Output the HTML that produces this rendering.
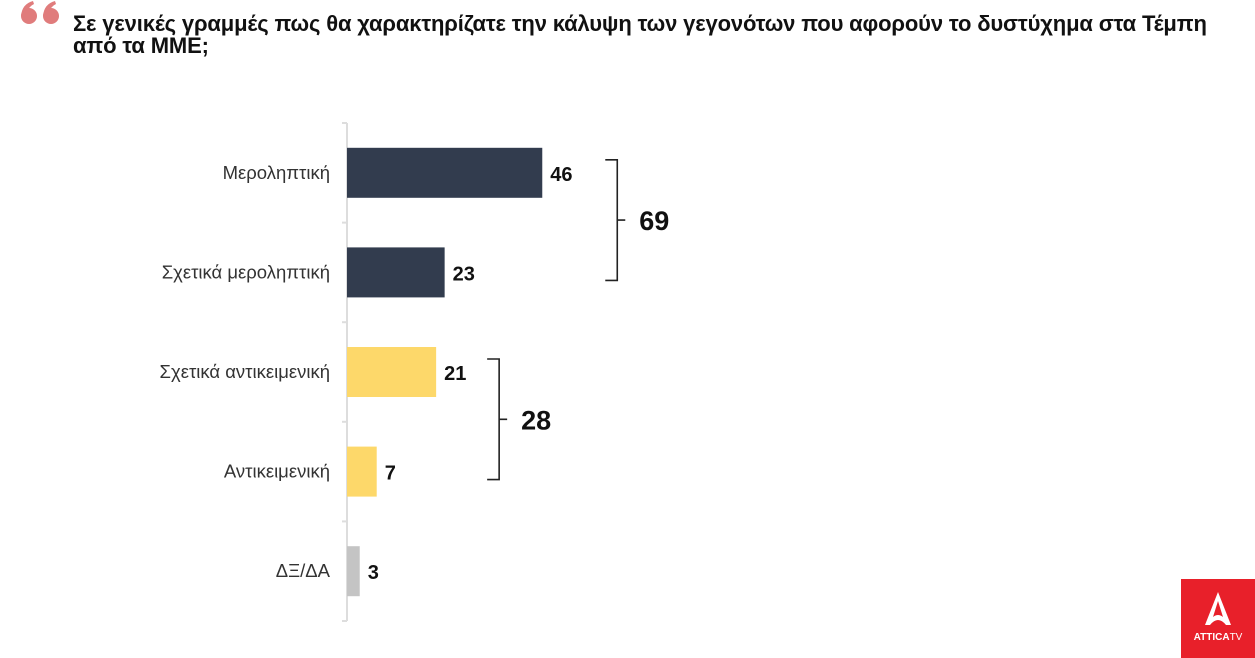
<!DOCTYPE html>
<html><head><meta charset="utf-8"><style>
body{margin:0;width:1255px;height:658px;background:#fff;overflow:hidden;font-family:"Liberation Sans","DejaVu Sans",sans-serif;}
.t{position:absolute;left:73px;top:13px;font-weight:bold;font-size:22px;line-height:22px;color:#111;white-space:nowrap;letter-spacing:-0.15px;}
</style></head><body>
<svg width="64" height="30" style="position:absolute;left:16px;top:0">
<circle cx="13" cy="16" r="8" fill="#e07c7c"/><path d="M5 16 Q6 4 17 1 L18 4 Q12 7 12 12 Z" fill="#e07c7c"/>
<circle cx="35" cy="16" r="8" fill="#e07c7c"/><path d="M27 16 Q28 4 39 1 L40 4 Q34 7 34 12 Z" fill="#e07c7c"/>
</svg>
<div class="t">Σε γενικές γραμμές πως θα χαρακτηρίζατε την κάλυψη των γεγονότων που αφορούν το δυστύχημα στα Τέμπη<br>από τα ΜΜΕ;</div>
<svg id="c" width="1255" height="658" style="position:absolute;left:0;top:0"></svg>
<div style="position:absolute;left:1181px;top:579px;width:74px;height:79px;background:#e8202a;color:#fff;text-align:center;">
<svg width="40" height="40" viewBox="0 0 40 40" style="margin-top:10px"><path d="M20 3 L7 36 L12 36 Q20 26 28 36 L33 36 Z M20 12 L25 28 Q20 24 15 28 Z" fill="#fff"/></svg>
<div style="font-size:10px;font-weight:bold;margin-top:-2px">ATTICA<span style="font-weight:normal">TV</span></div></div>
<script>
const categories=["Μεροληπτική","Σχετικά μεροληπτική","Σχετικά αντικειμενική","Αντικειμενική","ΔΞ/ΔΑ"];
const values=[46,23,21,7,3];
const colors=["#323c4e","#323c4e","#fdd86a","#fdd86a","#c4c4c4"];
const groupTotals=[69,28];
const groupRanges=[[0,1],[2,3]];
const NS="http://www.w3.org/2000/svg",svg=document.getElementById('c');
const x0=347,k=4.245,top0=123,step=99.6,bh=50;
const x=v=>x0+v*k, yc=i=>top0+step*(i+0.5);
function mk(t,a){const e=document.createElementNS(NS,t);for(const p in a)e.setAttribute(p,a[p]);svg.appendChild(e);return e;}
let ax=mk('line',{x1:x0,x2:x0,y1:top0,y2:top0+step*5,stroke:'#ddd','stroke-width':2});


for(let i=0;i<=5;i++){let tk=mk('line',{x1:x0-5,x2:x0,y1:top0+step*i,y2:top0+step*i,stroke:'#ddd','stroke-width':2});

}
categories.forEach((c,i)=>{
 let r=mk('rect',{x:x0,y:yc(i)-bh/2,width:x(values[i])-x0,height:bh,fill:colors[i]});
 
 
 let l=mk('text',{x:330,y:yc(i)+6,'text-anchor':'end','font-size':18.5,fill:'#333'});l.textContent=c;
 
 
 let v=mk('text',{x:x(values[i])+8,y:yc(i)+8,'font-size':20,'font-weight':'bold',fill:'#111'});v.textContent=values[i];
 
 
});
groupRanges.forEach((g,j)=>{
 const bx=Math.max(...values.slice(g[0],g[1]+1).map(x))+ (j==0?75:63);
 const y1=yc(g[0])-13,y2=yc(g[1])+8,ym=(y1+y2)/2;
 let p=mk('path',{d:`M${bx-12} ${y1}H${bx}V${y2}H${bx-12}M${bx} ${ym}H${bx+8}`,fill:'none',stroke:'#222','stroke-width':1.6});
 
 
 let t=mk('text',{x:bx+22,y:ym+10,'font-size':27,'font-weight':'bold',fill:'#111'});t.textContent=groupTotals[j];
 
 
});
</script>
</body></html>
